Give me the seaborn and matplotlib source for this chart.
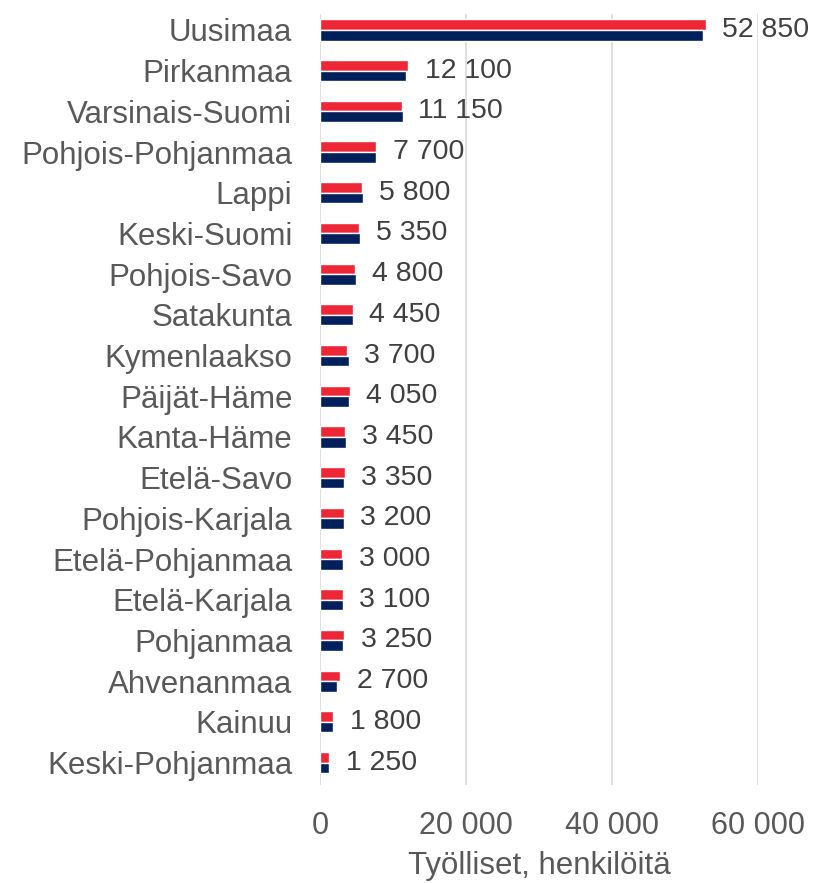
import pandas as pd
import numpy as np
import matplotlib.pyplot as plt
import seaborn as sns

regions = ['Uusimaa', 'Pirkanmaa', 'Varsinais-Suomi', 'Pohjois-Pohjanmaa', 'Lappi',
           'Keski-Suomi', 'Pohjois-Savo', 'Satakunta', 'Kymenlaakso', 'Päijät-Häme',
           'Kanta-Häme', 'Etelä-Savo', 'Pohjois-Karjala', 'Etelä-Pohjanmaa',
           'Etelä-Karjala', 'Pohjanmaa', 'Ahvenanmaa', 'Kainuu', 'Keski-Pohjanmaa']
red_values = [52850, 12100, 11150, 7700, 5800, 5350, 4800, 4450, 3700, 4050,
              3450, 3350, 3200, 3000, 3100, 3250, 2700, 1800, 1250]
navy_values = [52500, 11700, 11300, 7700, 5850, 5450, 4850, 4550, 4000, 4000,
               3500, 3300, 3200, 3100, 3100, 3100, 2350, 1800, 1200]
series = ['Sarja 1', 'Sarja 2']
ticks = [0, 20000, 40000, 60000]

df = pd.DataFrame({
    'Alue': regions * 2,
    'Sarja': [series[0]] * len(regions) + [series[1]] * len(regions),
    'Arvo': red_values + navy_values,
})

def fmt(v):
    return f"{v:,.0f}".replace(',', ' ')

sns.set_style('white')
plt.rcParams['font.family'] = ['Liberation Sans', 'DejaVu Sans']

fig, ax = plt.subplots(figsize=(8.21, 8.83), dpi=100)
sns.barplot(data=df, y='Alue', x='Arvo', hue='Sarja', order=regions, hue_order=series,
            palette=['#EE2737', '#00205B'], width=0.52, orient='h', ax=ax,
            legend=False, saturation=1)

for i, v in enumerate(red_values):
    ax.annotate(fmt(v), xy=(v, i), xytext=(12, 0), textcoords='offset points',
                va='center', ha='left', fontsize=20.5, color='#404040')

ax.set_xlim(0, 60000)
ax.set_xticks(ticks)
ax.set_xticklabels([fmt(t) for t in ticks])
ax.grid(axis='x', color='#D9D9D9', linewidth=1.2)
ax.set_axisbelow(True)
for s in ax.spines.values():
    s.set_visible(False)
ax.tick_params(axis='both', length=0, labelsize=22.5, labelcolor='#595959')
ax.tick_params(axis='x', pad=19, labelsize=22)
ax.tick_params(axis='y', pad=20)
ax.set_ylabel('')
ax.set_xlabel('Työlliset, henkilöitä', fontsize=22.5, color='#595959', labelpad=7)
ax.set_ylim(len(regions) - 0.45, -0.4)

plt.subplots_adjust(left=0.39, right=0.923, top=0.9845, bottom=0.111)
plt.savefig('out.png', dpi=100)
